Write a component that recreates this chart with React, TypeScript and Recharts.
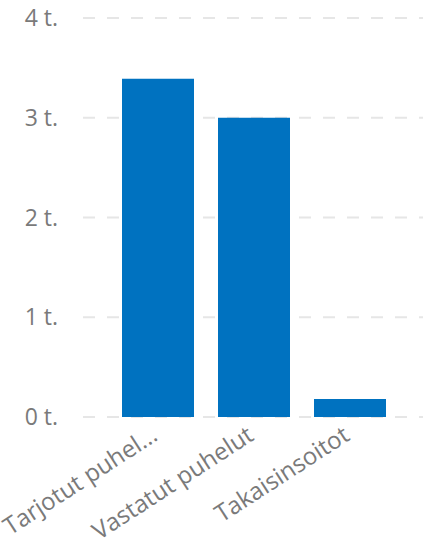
import React from 'react';
import { BarChart, Bar, XAxis, YAxis, CartesianGrid } from 'recharts';

// Call volumes per category
const categories = ['Tarjotut puhelut', 'Vastatut puhelut', 'Takaisinsoitot'];
const tickLabels = ['Tarjotut puhel...', 'Vastatut puhelut', 'Takaisinsoitot'];
const callCounts = [3390, 3000, 180];
const yTicks = [0, 1000, 2000, 3000, 4000];

const data = categories.map((name, i) => ({
  name,
  label: tickLabels[i],
  value: callCounts[i],
}));

const FONT = '"Open Sans", "Segoe UI", sans-serif';
const TEXT_GRAY = '#7a7a7a';
const FONT_SIZE = 23;

const RotatedTick = (props: any) => {
  const { x, y, index } = props;
  return (
    <g transform={`translate(${x - 8},${y})`}>
      <text
        textAnchor="end"
        transform="rotate(-33)"
        fill={TEXT_GRAY}
        fontSize={24}
        fontFamily={FONT}
        dy="0.7em"
      >
        {tickLabels[index]}
      </text>
    </g>
  );
};

const App: React.FC = () => {
  return (
    <div style={{ position: 'absolute', left: 0, top: 0, width: 423, height: 545, background: '#fff' }}>
      <BarChart
        width={423}
        height={545}
        data={data}
        margin={{ top: 18, right: 0, bottom: 0, left: 0 }}
        barCategoryGap="12.5%"
      >
        <CartesianGrid
          vertical={false}
          stroke="#e6e6e6"
          strokeWidth={2}
          strokeDasharray="12 12"
        />
        <XAxis
          dataKey="name"
          axisLine={false}
          tickLine={false}
          height={128}
          interval={0}
          padding={{ left: 27, right: 25 }}
          tick={<RotatedTick />}
        />
        <YAxis
          width={83}
          domain={[0, 4000]}
          ticks={yTicks}
          axisLine={false}
          tickLine={false}
          tickSize={0}
          tickMargin={25}
          tickFormatter={(v: number) => `${v / 1000} t.`}
          tick={{ fill: TEXT_GRAY, fontSize: FONT_SIZE, fontFamily: FONT }}
        />
        <Bar dataKey="value" fill="#0072C0" isAnimationActive={false} />
      </BarChart>
    </div>
  );
};

export default App;
